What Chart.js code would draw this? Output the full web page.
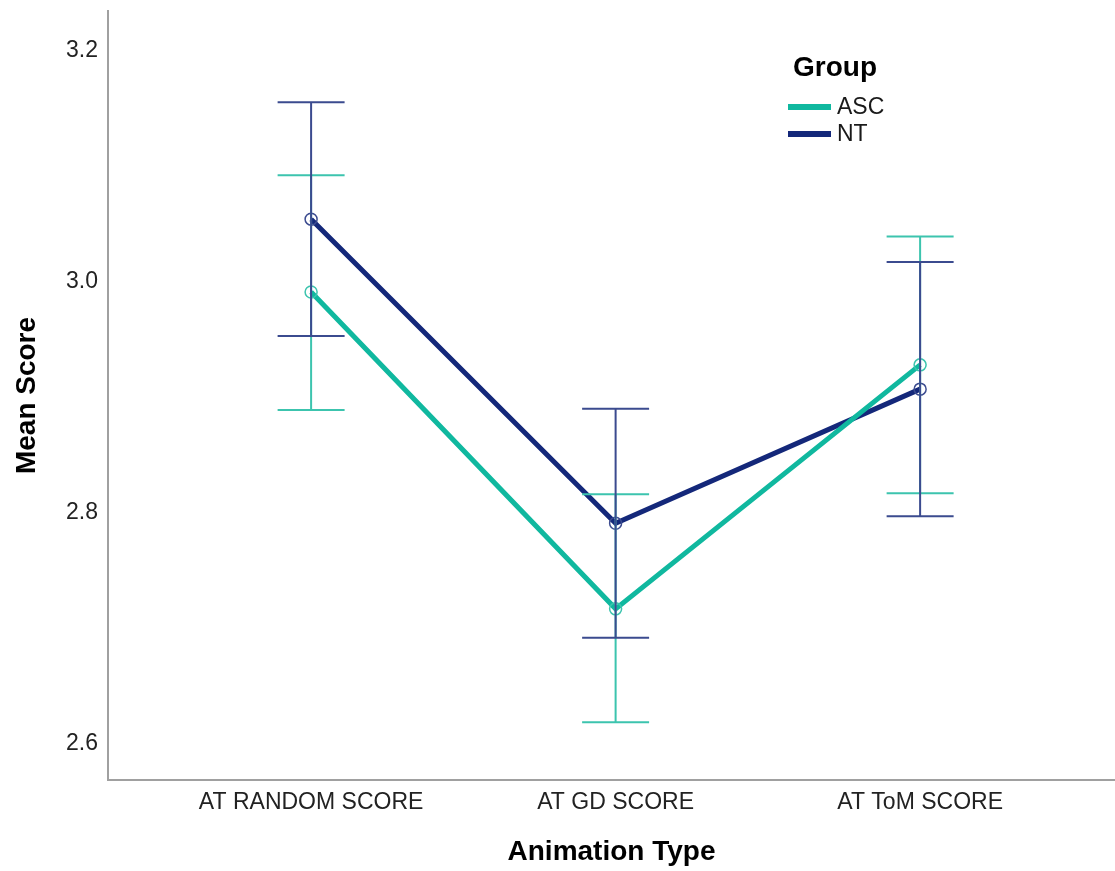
<!DOCTYPE html>
<html>
<head>
<meta charset="utf-8">
<script src="https://cdn.jsdelivr.net/npm/chart.js@4.4.1/dist/chart.umd.min.js"></script>
<style>
  html, body { margin: 0; padding: 0; background: #ffffff; }
  #wrap { width: 1115px; height: 871px; }
</style>
</head>
<body>
<div id="wrap"><canvas id="chart" width="1115" height="871"></canvas></div>
<script>
// Animation types on the x axis
const categories = ['AT RANDOM SCORE', 'AT GD SCORE', 'AT ToM SCORE'];

// Group means
const ascMean = [2.991, 2.717, 2.928];
const ntMean  = [3.054, 2.791, 2.907];

// 95% confidence interval bounds
const ascLower = [2.889, 2.619, 2.817];
const ascUpper = [3.092, 2.816, 3.039];
const ntLower  = [2.953, 2.692, 2.797];
const ntUpper  = [3.155, 2.890, 3.017];

// Y axis tick values
const yTicks = [2.6, 2.8, 3.0, 3.2];

const groupLabels = ['ASC', 'NT'];

const toPoints = vals => vals.map((v, i) => ({ x: i, y: v }));

const FONT = "'Liberation Sans', Arial, sans-serif";

// Keep the plot area flush: no extra room reserved for edge tick labels
const noEdgePadding = s => {
  s.paddingTop = 0; s.paddingBottom = 0;
  s.paddingLeft = 0; s.paddingRight = 0;
};

// Confidence-interval whiskers with caps, placed through the chart's scales
const errorBars = {
  id: 'errorBars',
  afterDatasetsDraw(chart) {
    const { ctx, scales: { x, y } } = chart;
    const sets = [
      { lo: ascLower, hi: ascUpper, color: '#3cc4ae' },
      { lo: ntLower,  hi: ntUpper,  color: '#3b4b8f' }
    ];
    ctx.save();
    ctx.lineWidth = 2;
    sets.forEach(s => {
      ctx.strokeStyle = s.color;
      s.lo.forEach((lo, i) => {
        const px = x.getPixelForValue(i);
        const capHalf = x.getPixelForValue(i + 0.11) - px;
        const yl = y.getPixelForValue(lo);
        const yh = y.getPixelForValue(s.hi[i]);
        ctx.beginPath();
        ctx.moveTo(px, yl); ctx.lineTo(px, yh);
        ctx.moveTo(px - capHalf, yl); ctx.lineTo(px + capHalf, yl);
        ctx.moveTo(px - capHalf, yh); ctx.lineTo(px + capHalf, yh);
        ctx.stroke();
      });
    });
    ctx.restore();
  }
};

// Legend box inside the plot, titled "Group"
const groupLegend = {
  id: 'groupLegend',
  afterDraw(chart) {
    const { ctx } = chart;
    ctx.save();
    ctx.fillStyle = '#000000';
    ctx.textBaseline = 'middle';
    ctx.textAlign = 'left';
    ctx.font = `bold 28px ${FONT}`;
    ctx.fillText('Group', 793, 68);
    ctx.font = `23px ${FONT}`;
    chart.data.datasets.forEach((ds, i) => {
      const yy = 107 + i * 27;
      ctx.strokeStyle = ds.borderColor;
      ctx.lineWidth = 6;
      ctx.beginPath();
      ctx.moveTo(788, yy);
      ctx.lineTo(831, yy);
      ctx.stroke();
      ctx.fillStyle = '#1a1a1a';
      ctx.fillText(ds.label, 837, yy + 1);
    });
    ctx.restore();
  }
};

new Chart(document.getElementById('chart'), {
  type: 'line',
  data: {
    datasets: [
      {
        label: groupLabels[0],
        data: toPoints(ascMean),
        borderColor: '#10b89f',
        borderWidth: 5,
        pointRadius: 6,
        pointBorderWidth: 1.5,
        pointBorderColor: '#3cc4ae',
        pointBackgroundColor: 'rgba(0,0,0,0)',
        tension: 0
      },
      {
        label: groupLabels[1],
        data: toPoints(ntMean),
        borderColor: '#14287a',
        borderWidth: 5,
        pointRadius: 6,
        pointBorderWidth: 1.5,
        pointBorderColor: '#3b4b8f',
        pointBackgroundColor: 'rgba(0,0,0,0)',
        tension: 0
      }
    ]
  },
  options: {
    responsive: false,
    animation: false,
    events: [],
    layout: { autoPadding: false, padding: { top: 11, right: 0, left: 0, bottom: 0 } },
    plugins: { legend: { display: false }, tooltip: { enabled: false } },
    scales: {
      x: {
        type: 'linear',
        min: -0.667,
        max: 2.64,
        afterBuildTicks: s => { s.ticks = categories.map((c, i) => ({ value: i })); },
        afterFit: s => { s.height = 91; noEdgePadding(s); },
        grid: { display: false, drawTicks: false },
        border: { display: true, color: '#a0a0a0', width: 2 },
        ticks: {
          padding: 9,
          maxRotation: 0,
          autoSkip: false,
          color: '#222222',
          font: { family: FONT, size: 23 },
          callback: v => categories[v]
        },
        title: {
          display: true,
          text: 'Animation Type',
          color: '#000000',
          font: { family: FONT, size: 28, weight: 'bold' },
          padding: { top: 0, bottom: 2 }
        }
      },
      y: {
        type: 'linear',
        min: 2.569,
        max: 3.234,
        afterBuildTicks: s => { s.ticks = yTicks.map(v => ({ value: v })); },
        afterFit: s => { s.width = 108; noEdgePadding(s); },
        grid: { display: false, drawTicks: false },
        border: { display: true, color: '#a0a0a0', width: 2 },
        ticks: {
          padding: 10,
          color: '#222222',
          font: { family: FONT, size: 23 },
          callback: v => Number(v).toFixed(1)
        },
        title: {
          display: true,
          text: 'Mean Score',
          color: '#000000',
          font: { family: FONT, size: 28, weight: 'bold' },
          padding: { top: 10, bottom: 0 }
        }
      }
    }
  },
  plugins: [errorBars, groupLegend]
});
</script>
</body>
</html>
